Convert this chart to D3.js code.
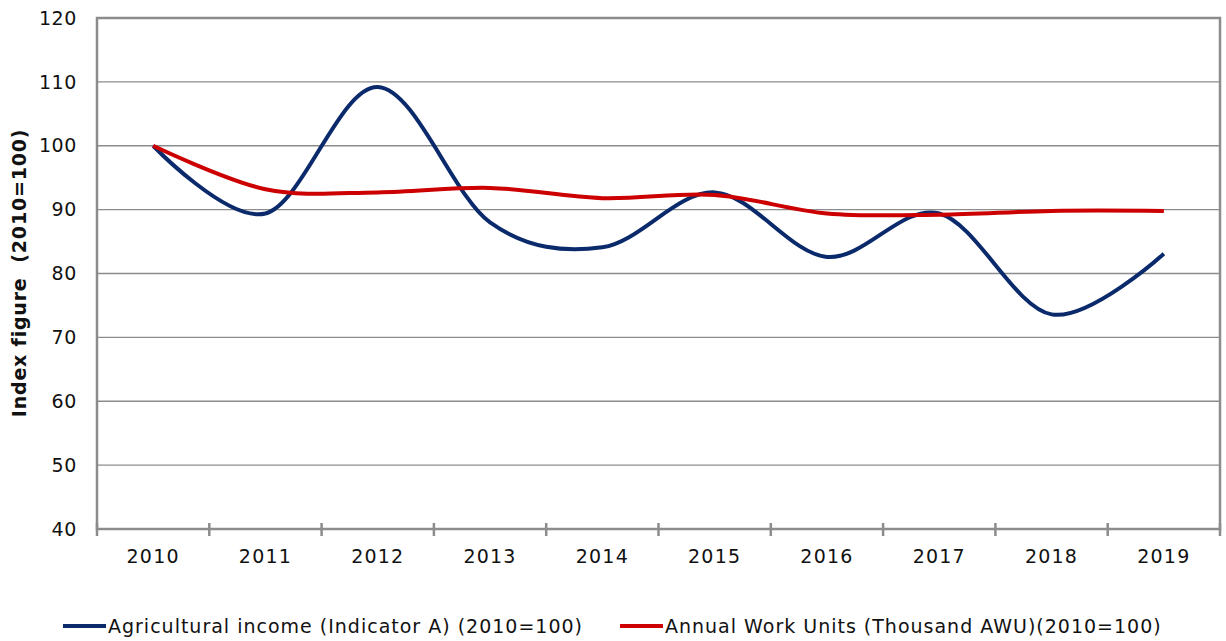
<!DOCTYPE html>
<html>
<head>
<meta charset="utf-8">
<script src="https://cdn.jsdelivr.net/npm/d3@7"></script>
<style>
  body { margin: 0; background: #fff; }
  text { font-family: "DejaVu Sans", Verdana, sans-serif; fill: #111; }
</style>
</head>
<body>
<div id="chart"></div>
<script>
var years = ['2010', '2011', '2012', '2013', '2014', '2015', '2016', '2017', '2018', '2019'];
var income = [100, 89.4, 109.2, 88.0, 84.1, 92.7, 82.6, 89.4, 73.6, 83.1];
var awu = [100, 93.2, 92.7, 93.4, 91.8, 92.3, 89.4, 89.2, 89.8, 89.8];
var yTicks = [40, 50, 60, 70, 80, 90, 100, 110, 120];

var width = 1226, height = 641;
var margin = { top: 18, right: 6, bottom: 112, left: 97 };
var innerW = width - margin.left - margin.right;
var innerH = height - margin.top - margin.bottom;

var svg = d3.select('#chart')
    .append('svg')
    .attr('width', width)
    .attr('height', height);

var g = svg.append('g')
    .attr('transform', 'translate(' + margin.left + ',' + margin.top + ')');

var x = d3.scaleBand().domain(years).range([0, innerW]);
var y = d3.scaleLinear().domain([40, 120]).range([innerH, 0]);

// gridlines
g.selectAll('.grid')
    .data(yTicks.slice(1))
    .enter()
    .append('line')
    .attr('x1', 0)
    .attr('x2', innerW)
    .attr('y1', function(d) { return y(d); })
    .attr('y2', function(d) { return y(d); })
    .attr('stroke', '#8c8c8c')
    .attr('stroke-width', 1.3);

// plot border
g.append('rect')
    .attr('width', innerW)
    .attr('height', innerH)
    .attr('fill', 'none')
    .attr('stroke', '#8c8c8c')
    .attr('stroke-width', 2.5);

// y labels
g.selectAll('.ylab')
    .data(yTicks)
    .enter()
    .append('text')
    .attr('x', -20)
    .attr('y', function(d) { return y(d); })
    .attr('dy', '0.35em')
    .attr('text-anchor', 'end')
    .attr('font-size', 19)
    .attr('letter-spacing', 0.6)
    .text(function(d) { return d; });

// x tick marks at band edges
var edges = years.map(function(d) { return x(d); }).concat([innerW]);
g.selectAll('.xtick')
    .data(edges)
    .enter()
    .append('line')
    .attr('x1', function(d) { return d; })
    .attr('x2', function(d) { return d; })
    .attr('y1', innerH - 6)
    .attr('y2', innerH + 7)
    .attr('stroke', '#8c8c8c')
    .attr('stroke-width', 2.5);

// x labels
g.selectAll('.xlab')
    .data(years)
    .enter()
    .append('text')
    .attr('x', function(d) { return x(d) + x.bandwidth() / 2; })
    .attr('y', innerH + 34)
    .attr('text-anchor', 'middle')
    .attr('font-size', 19)
    .attr('letter-spacing', 1.2)
    .text(function(d) { return d; });

// y title
svg.append('text')
    .attr('transform', 'translate(26,' + (margin.top + 255) + ') rotate(-90)')
    .attr('text-anchor', 'middle')
    .attr('font-size', 19)
    .attr('font-weight', 'bold')
    .attr('letter-spacing', 0.8)
    .style('white-space', 'pre')
    .text('Index figure  (2010=100)');

var line = d3.line()
    .x(function(d, i) { return x(years[i]) + x.bandwidth() / 2; })
    .y(function(d) { return y(d); })
    .curve(d3.curveCatmullRom.alpha(0));

var series = [
    { name: 'Agricultural income (Indicator A) (2010=100)', values: income, color: '#0b2a6b' },
    { name: 'Annual Work Units (Thousand AWU)(2010=100)', values: awu, color: '#cc0000' }
];

g.selectAll('.series')
    .data(series)
    .enter()
    .append('path')
    .attr('d', function(d) { return line(d.values); })
    .attr('fill', 'none')
    .attr('stroke', function(d) { return d.color; })
    .attr('stroke-width', 4)
    .attr('stroke-linejoin', 'round');

// legend
var legendX = [63, 620];
var leg = svg.selectAll('.legend')
    .data(series)
    .enter()
    .append('g')
    .attr('transform', function(d, i) { return 'translate(' + legendX[i] + ',626)'; });

leg.append('line')
    .attr('x1', 0)
    .attr('x2', 43)
    .attr('stroke', function(d) { return d.color; })
    .attr('stroke-width', 4);

leg.append('text')
    .attr('x', 45)
    .attr('dy', '0.35em')
    .attr('font-size', 19)
    .attr('letter-spacing', 1)
    .text(function(d) { return d.name; });
</script>
</body>
</html>
